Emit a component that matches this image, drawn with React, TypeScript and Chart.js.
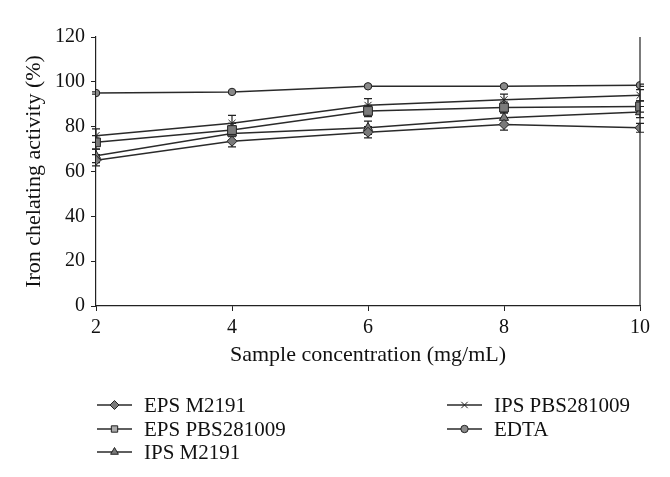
import React, { useEffect, useRef } from 'react';
import { Chart, registerables } from 'chart.js';
import { drawPoint } from 'chart.js/helpers';

Chart.register(...registerables);

const concentrations = [2, 4, 6, 8, 10];
const xTicks = [2, 4, 6, 8, 10];
const yTicks = [0, 20, 40, 60, 80, 100, 120];

const seriesNames = ['EPS M2191', 'EPS PBS281009', 'IPS M2191', 'IPS PBS281009', 'EDTA'];
const epsM2191 = [65, 73.5, 77.5, 81, 79.5];
const epsM2191Err = [2.5, 2.5, 2.5, 2.5, 2];
const epsPBS = [73, 78.5, 87, 88.5, 89];
const epsPBSErr = [3, 3, 2.5, 2.5, 2.5];
const ipsM2191 = [67, 77, 79.5, 84, 86.5];
const ipsM2191Err = [3, 3, 3, 2.5, 2.5];
const ipsPBS = [76, 81.5, 89.5, 92, 94];
const ipsPBSErr = [3, 3.5, 3, 2.5, 2.5];
const edta = [95, 95.5, 98, 98, 98.5];
const edtaErr = [0.5, 0.5, 0.5, 0.5, 0.5];

const FONT = '"Liberation Serif", "DejaVu Serif", serif';

const mk = (label: string, vals: number[], errs: number[], style: string, radius: number, fill: string) => ({
  label,
  data: concentrations.map((x, i) => ({ x, y: vals[i] })),
  errors: errs,
  borderColor: '#2a2a2a',
  borderWidth: 1.5,
  pointStyle: style,
  pointRadius: radius,
  pointBackgroundColor: fill,
  pointBorderColor: '#222',
  pointBorderWidth: 1,
  tension: 0,
  fill: false,
});

const errorBarPlugin = {
  id: 'errorBars',
  beforeDatasetsDraw(chart: any) {
    const { ctx } = chart;
    const y = chart.scales.y;
    ctx.save();
    ctx.strokeStyle = '#222';
    ctx.lineWidth = 1.2;
    chart.data.datasets.forEach((ds: any, di: number) => {
      const meta = chart.getDatasetMeta(di);
      meta.data.forEach((pt: any, i: number) => {
        const v = ds.data[i].y;
        const e = ds.errors[i];
        const top = y.getPixelForValue(v + e);
        const bot = y.getPixelForValue(v - e);
        ctx.beginPath();
        ctx.moveTo(pt.x, top);
        ctx.lineTo(pt.x, bot);
        ctx.moveTo(pt.x - 4, top);
        ctx.lineTo(pt.x + 4, top);
        ctx.moveTo(pt.x - 4, bot);
        ctx.lineTo(pt.x + 4, bot);
        ctx.stroke();
      });
    });
    ctx.restore();
  },
  afterDraw(chart: any) {
    const { ctx, chartArea } = chart;
    ctx.save();
    ctx.strokeStyle = '#222';
    ctx.lineWidth = 1.2;
    ctx.beginPath();
    ctx.moveTo(chartArea.right, chartArea.top);
    ctx.lineTo(chartArea.right, chartArea.bottom);
    ctx.stroke();
    const positions = [
      [97, 405], [97, 429], [97, 452], [447, 405], [447, 429],
    ];
    ctx.font = `21px ${FONT}`;
    ctx.textBaseline = 'middle';
    ctx.fillStyle = '#111';
    chart.data.datasets.forEach((ds: any, i: number) => {
      const [lx, ly] = positions[i];
      ctx.strokeStyle = '#2a2a2a';
      ctx.lineWidth = 1.5;
      ctx.beginPath();
      ctx.moveTo(lx, ly);
      ctx.lineTo(lx + 35, ly);
      ctx.stroke();
      ctx.fillStyle = i === 1 ? '#aaa' : ds.pointBackgroundColor;
      ctx.strokeStyle = '#222';
      ctx.lineWidth = 1;
      drawPoint(ctx, { pointStyle: ds.pointStyle, radius: Math.min(ds.pointRadius, 4.5), borderWidth: 1, rotation: 0 }, lx + 17.5, ly);
      ctx.fillStyle = '#111';
      ctx.fillText(ds.label, lx + 47, ly + 1);
    });
    ctx.restore();
  },
};

export default function App() {
  const ref = useRef<HTMLCanvasElement>(null);
  useEffect(() => {
    document.body.style.margin = '0';
    const chart = new Chart(ref.current as HTMLCanvasElement, {
      type: 'line',
      data: {
        datasets: [
          mk(seriesNames[0], epsM2191, epsM2191Err, 'rectRot', 5, '#7a7a7a'),
          mk(seriesNames[1], epsPBS, epsPBSErr, 'rect', 6.2, '#7a7a7a'),
          mk(seriesNames[2], ipsM2191, ipsM2191Err, 'triangle', 5.3, '#7a7a7a'),
          mk(seriesNames[3], ipsPBS, ipsPBSErr, 'crossRot', 5, '#7a7a7a'),
          mk(seriesNames[4], edta, edtaErr, 'circle', 3.7, '#8a8a8a'),
        ] as any,
      },
      options: {
        animation: false,
        responsive: false,
        layout: { padding: { left: 0, right: 30, top: 37, bottom: 109 } },
        plugins: { legend: { display: false }, tooltip: { enabled: false } },
        scales: {
          x: {
            type: 'linear',
            min: 2,
            max: 10,
            afterFit: (s: any) => { s.height = 62; },
            afterBuildTicks: (s: any) => { s.ticks = xTicks.map((v) => ({ value: v })); },
            ticks: { color: '#111', font: { family: FONT, size: 20 }, padding: 5 },
            grid: { display: true, drawOnChartArea: false, drawTicks: true, tickLength: 5, color: '#222' },
            border: { display: true, color: '#222', width: 1.2 },
            title: { display: true, text: 'Sample concentration (mg/mL)', color: '#111', font: { family: FONT, size: 22 }, padding: { top: 0, bottom: 0 } },
          },
          y: {
            type: 'linear',
            min: 0,
            max: 120,
            afterFit: (s: any) => { s.width = 96; },
            afterBuildTicks: (s: any) => { s.ticks = yTicks.map((v) => ({ value: v })); },
            ticks: { color: '#111', font: { family: FONT, size: 20 }, padding: 6 },
            grid: { display: true, drawOnChartArea: false, drawTicks: true, tickLength: 5, color: '#222' },
            border: { display: true, color: '#222', width: 1.2 },
            title: { display: true, text: 'Iron chelating activity (%)', color: '#111', font: { family: FONT, size: 22 }, padding: { top: 21, bottom: 0 } },
          },
        },
      },
      plugins: [errorBarPlugin],
    });
    return () => chart.destroy();
  }, []);
  return (
    <div style={{ width: 670, height: 477 }}>
      <canvas ref={ref} width={670} height={477} />
    </div>
  );
}
